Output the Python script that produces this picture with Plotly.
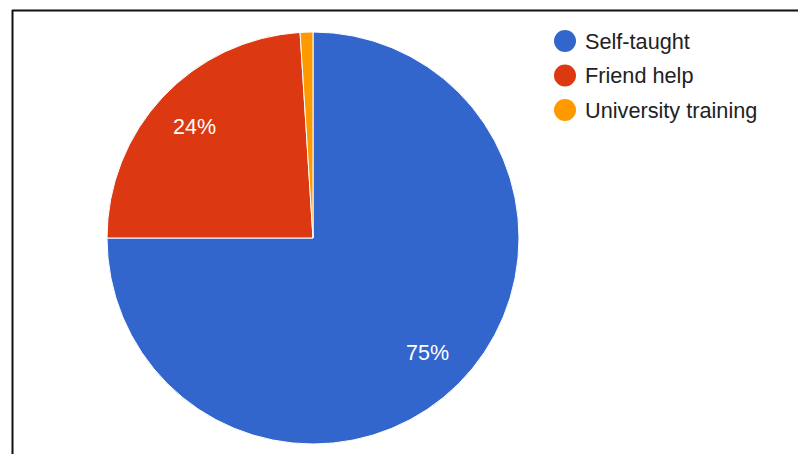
import math
import plotly.graph_objects as go

# Survey: how people learned
labels = ["Self-taught", "Friend help", "University training"]
values = [75, 24, 1]
colors = ["#3366CC", "#DC3912", "#FF9900"]

W, H = 798, 454
FONT = "Arial, Liberation Sans, sans-serif"

# pie placement in pixels
cx, cy_top, R = 313, 238, 206
cy = H - cy_top

fig = go.Figure(
    go.Pie(
        labels=labels,
        values=values,
        sort=False,
        direction="clockwise",
        rotation=0,
        marker=dict(colors=colors, line=dict(color="white", width=1)),
        textinfo="none",
        hoverinfo="label+percent",
        showlegend=False,
        domain=dict(x=[(cx - R) / W, (cx + R) / W], y=[(cy - R) / H, (cy + R) / H]),
    )
)

annotations = []
shapes = []

# percent labels along each slice bisector
total = sum(values)
cum = 0.0
for v in values:
    frac = v / total
    mid = (cum + frac / 2) * 2 * math.pi
    cum += frac
    if frac < 0.05:
        continue
    r = 0.787 * R
    x = cx + r * math.sin(mid)
    y = cy + r * math.cos(mid)
    annotations.append(dict(
        x=x / W, y=y / H, xref="paper", yref="paper",
        text=f"{round(frac * 100)}%", showarrow=False,
        xanchor="center", yanchor="middle",
        font=dict(family=FONT, size=21.5, color="white"),
    ))

# legend with round markers
leg_x, text_x, leg_y0, leg_dy, rad = 565, 583, 41, 34.5, 11
for i, (lab, col) in enumerate(zip(labels, colors)):
    yy = H - (leg_y0 + i * leg_dy)
    shapes.append(dict(
        type="circle", xref="paper", yref="paper",
        x0=(leg_x - rad) / W, x1=(leg_x + rad) / W,
        y0=(yy - rad) / H, y1=(yy + rad) / H,
        fillcolor=col, line=dict(width=0),
    ))
    annotations.append(dict(
        x=text_x / W, y=yy / H, xref="paper", yref="paper",
        text=lab, showarrow=False, xanchor="left", yanchor="middle",
        font=dict(family=FONT, size=21.7, color="#222222"),
    ))

# frame lines on top and left
shapes.append(dict(type="line", xref="paper", yref="paper",
                   x0=12 / W, x1=1, y0=1 - 10.5 / H, y1=1 - 10.5 / H,
                   line=dict(color="#111111", width=2)))
shapes.append(dict(type="line", xref="paper", yref="paper",
                   x0=12.5 / W, x1=12.5 / W, y0=0, y1=1 - 10 / H,
                   line=dict(color="#111111", width=2)))

fig.update_layout(
    width=W, height=H,
    margin=dict(l=0, r=0, t=0, b=0),
    paper_bgcolor="white", plot_bgcolor="white",
    annotations=annotations, shapes=shapes,
)

fig.write_html("out.html")
